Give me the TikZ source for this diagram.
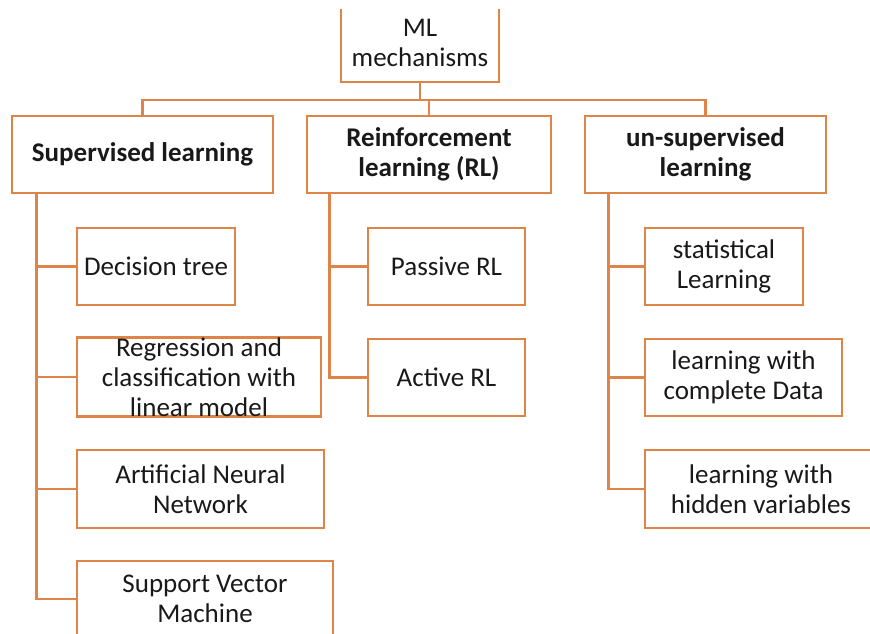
\documentclass[tikz,border=0pt]{standalone}
\usepackage{fontspec}
\setmainfont{Carlito}
\definecolor{lineor}{RGB}{222,132,72}
\definecolor{txt}{RGB}{25,25,25}
\begin{document}
\begin{tikzpicture}[x=1pt,y=-1pt,
  box/.style={draw=lineor, line width=2.6pt, fill=white, align=center, inner sep=0pt,
    text=txt, font=\fontsize{27}{30}\selectfont},
  head/.style={box, font=\fontsize{27}{30}\selectfont\bfseries, minimum height=77},
  leaf/.style={box, minimum height=77},
  conn/.style={draw=lineor, line width=2.6pt}]
\useasboundingbox (0,0) rectangle (870,634);
\clip (0,0) rectangle (870,634);
\fill[white] (0,0) rectangle (870,634);
% root (its top edge lies outside the picture)
\begin{scope}
\clip (0,10) rectangle (870,634);
\node[box, minimum width=158, minimum height=110] (ml) at (420,27) {};
\end{scope}
\node[align=center, text=txt, font=\fontsize{27}{30}\selectfont] (mltext) at (420,43) {ML\\mechanisms};
% heads
\node[head, minimum width=261] (sup) at (142.5,154.5) {Supervised learning};
\node[head, minimum width=244] (rl) at (429,154.5) {Reinforcement\\learning (RL)};
\node[head, minimum width=241] (uns) at (705.5,154.5) {un-supervised\\learning};
% supervised leaves
\node[leaf, minimum width=158] (dt) at (156,266.5) {Decision tree};
\node[leaf, minimum width=244, minimum height=78] (reg) at (199,377) {Regression and\\classification with\\linear model};
\node[leaf, minimum width=247, minimum height=78] (ann) at (200.5,489) {Artificial Neural\\Network};
\node[leaf, minimum width=256, minimum height=76] (svm) at (205,599) {Support Vector\\Machine};
% RL leaves
\node[leaf, minimum width=157] (prl) at (446.5,266.5) {Passive RL};
\node[leaf, minimum width=157] (arl) at (446.5,377.5) {Active RL};
% unsupervised leaves
\node[leaf, minimum width=158] (stat) at (724,266.5) {statistical\\Learning};
\node[leaf, minimum width=197] (comp) at (743.5,377.5) {learning with\\complete Data};
\node[leaf, minimum width=232, minimum height=78] (hid) at (761,489) {learning with\\hidden variables};
% top connectors
\coordinate (bar) at (420,100);
\draw[conn] (ml.south) -- (bar);
\draw[conn] (bar) -| (sup.north);
\draw[conn] (bar) -| (rl.north);
\draw[conn] (bar) -| (uns.north);
% supervised trunk
\coordinate (st) at ([xshift=26]sup.south west);
\draw[conn] (st) |- (dt.west);
\draw[conn] (st) |- (reg.west);
\draw[conn] (st) |- (ann.west);
\draw[conn] (st) |- (svm.west);
% RL trunk
\coordinate (rt) at ([xshift=24]rl.south west);
\draw[conn] (rt) |- (prl.west);
\draw[conn] (rt) |- (arl.west);
% unsupervised trunk
\coordinate (ut) at ([xshift=25]uns.south west);
\draw[conn] (ut) |- (stat.west);
\draw[conn] (ut) |- (comp.west);
\draw[conn] (ut) |- (hid.west);
\end{tikzpicture}
\end{document}
